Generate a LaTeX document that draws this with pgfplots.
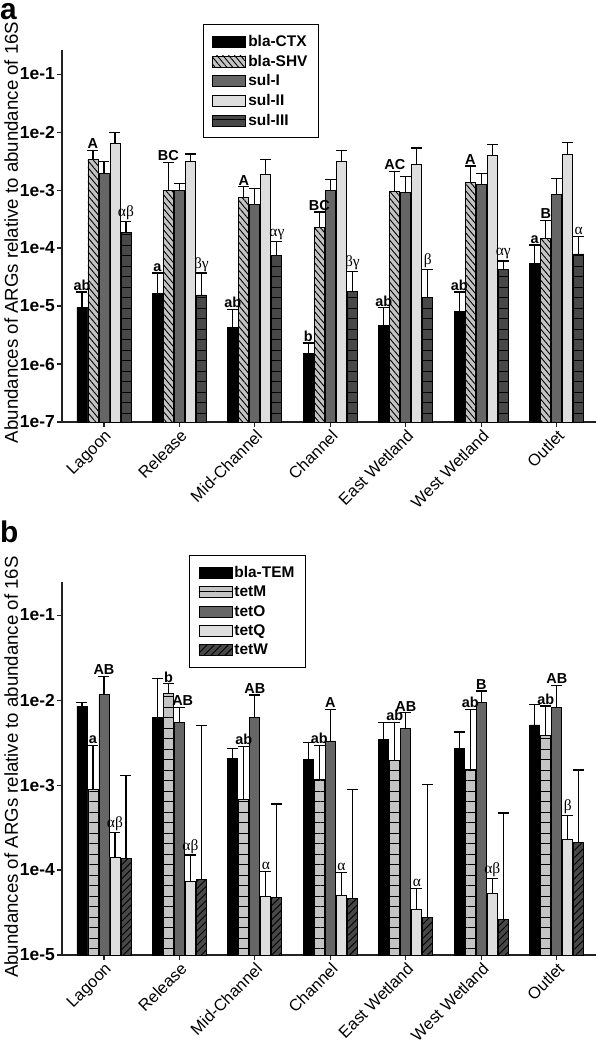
\documentclass[border=0pt]{standalone}
\usepackage{fontspec}
\setmainfont{Liberation Sans}
\newfontfamily\grk{Liberation Serif}
\usepackage{pgfplots}
\pgfplotsset{compat=1.18}
\usetikzlibrary{patterns.meta}

\definecolor{cMid}{HTML}{666666}
\definecolor{cDark}{HTML}{484848}
\definecolor{cLight}{HTML}{C4C4C4}
\definecolor{cPale}{HTML}{DEDEDE}
\definecolor{axc}{HTML}{222222}

% letter above an error bar: category, series offset (-2..2), error top, text
\newcommand{\lab}[4]{\node[anchor=south, inner sep=1.5bp, font=\bfseries\fontsize{14.5}{14.5}\selectfont, xshift={#2*11bp}] at (axis cs:#1,#3) {#4};}
\newcommand{\glab}[4]{\node[anchor=south, inner sep=1.5bp, font=\grk\fontsize{15.5}{15.5}\selectfont, xshift={#2*11bp}] at (axis cs:#1,#3) {#4};}

\tikzset{
  sBlack/.style={fill=black, draw=black, line width=0.8bp},
  sBack/.style={fill=cLight, draw=black, line width=0.8bp,
    postaction={pattern={Lines[angle=-50,distance=4.5bp,line width=0.9bp]}}},
  sMid/.style={fill=cMid, draw=black, line width=0.8bp},
  sPale/.style={fill=cPale, draw=black, line width=0.8bp},
  sDarkH/.style={fill=cDark, draw=black, line width=0.8bp,
    postaction={pattern={Lines[angle=0,distance=10.5bp,line width=0.9bp]}}},
  sLightH/.style={fill=cLight, draw=black, line width=0.8bp,
    postaction={pattern={Lines[angle=0,distance=10.5bp,line width=0.9bp]}}},
  sDarkF/.style={fill=cDark, draw=black, line width=0.8bp,
    postaction={pattern={Lines[angle=45,distance=5bp,line width=0.9bp]}}},
}

\begin{document}
\begin{tikzpicture}

\node[anchor=north west, inner sep=0, text height=16bp, text depth=0bp, font=\bfseries\fontsize{30}{30}\selectfont] at (0bp,-3bp) {a};
\node[anchor=north west, inner sep=0, text height=22bp, text depth=0bp, font=\bfseries\fontsize{30}{30}\selectfont] at (0bp,-520bp) {b};

% ---------------- panel a ----------------
\begin{axis}[at={(62bp,-50bp)}, anchor=north west,
    scale only axis, width=534bp, height=372bp,
    ybar=1bp, bar width=10bp,
    ymode=log, log origin=infty,
    xmin=-0.556, xmax=6.52,
    ymin=1e-7, ymax=0.26,
    axis lines=left, axis line style={line width=1.2bp, color=axc, -},
    tick align=outside, major tick length=5bp,
    tick style={line width=1.1bp, color=axc},
    yminorticks=false,
    xtick={0,...,6},
    xticklabels={Lagoon,Release,Mid-Channel,Channel,East Wetland,West Wetland,Outlet},
    x tick label style={rotate=45, anchor=north east, font=\fontsize{16.5}{16.5}\selectfont, inner sep=1bp},
    ytick={1e-7,1e-6,1e-5,1e-4,1e-3,1e-2,1e-1},
    yticklabels={1e-7,1e-6,1e-5,1e-4,1e-3,1e-2,1e-1},
    y tick label style={font=\bfseries\fontsize{17.5}{17.5}\selectfont, inner xsep=2bp},
    ylabel={Abundances of ARGs relative to abundance of 16S},
    ylabel style={font=\fontsize{18.7}{18.7}\selectfont, at={(axis description cs:-0.095,0.51)}, anchor=center},
    clip=false,
    legend image code/.code={\draw[#1, line width=0.8bp] (0bp,-5.5bp) rectangle (33bp,5.5bp);},
    legend style={at={(0.264,1.07)}, anchor=north west, draw=black, line width=1bp,
      font=\bfseries\fontsize{15.5}{15.5}\selectfont,
      row sep=3bp, inner xsep=9bp, inner ysep=9bp, cells={anchor=west}},
    error bars/error bar style={line width=1.2bp, black},
    error bars/error mark options={rotate=90, line width=1.2bp, mark size=5.5bp, black},
]
\addplot[sBlack, error bars/.cd, y dir=plus, y explicit] table[x=x, y=y, y error=e] {
x y e
0 9.5e-6 7.9e-6
1 1.65e-5 2.05e-5
2 4.3e-6 4.4e-6
3 1.5e-6 8e-7
4 4.7e-6 4.6e-6
5 8.1e-6 9.3e-6
6 5.4e-5 5.9e-5
};
\addplot[sBack, error bars/.cd, y dir=plus, y explicit] table[x=x, y=y, y error=e] {
x y e
0 3.4e-3 1.4e-3
1 1.0e-3 1.95e-3
2 7.4e-4 4.0e-4
3 2.3e-4 1.9e-4
4 9.3e-4 1.17e-3
5 1.35e-3 1.25e-3
6 1.44e-4 1.56e-4
};
\addplot[sMid, error bars/.cd, y dir=plus, y explicit] table[x=x, y=y, y error=e] {
x y e
0 1.96e-3 1.14e-3
1 9.7e-4 3.3e-4
2 5.7e-4 5.0e-4
3 9.7e-4 5.3e-4
4 9.1e-4 7.9e-4
5 1.27e-3 6.7e-4
6 8.5e-4 7.5e-4
};
\addplot[sPale, error bars/.cd, y dir=plus, y explicit] table[x=x, y=y, y error=e] {
x y e
0 6.4e-3 3.4e-3
1 3.1e-3 1.1e-3
2 1.86e-3 1.54e-3
3 3.1e-3 1.7e-3
4 2.8e-3 2.5e-3
5 4.0e-3 2.2e-3
6 4.07e-3 2.63e-3
};
\addplot[sDarkH, error bars/.cd, y dir=plus, y explicit] table[x=x, y=y, y error=e] {
x y e
0 1.86e-4 1.04e-4
1 1.55e-5 2.15e-5
2 7.4e-5 5.6e-5
3 1.8e-5 2.1e-5
4 1.4e-5 2.8e-5
5 4.2e-5 1.8e-5
6 7.9e-5 8.1e-5
};
\legend{bla-CTX,bla-SHV,sul-I,sul-II,sul-III}

\lab{0}{-2}{1.74e-5}{ab}
\lab{1}{-2}{3.7e-5}{a}
\lab{2}{-2}{8.7e-6}{ab}
\lab{3}{-2}{2.3e-6}{b}
\lab{4}{-2}{9.3e-6}{ab}
\lab{5}{-2}{1.74e-5}{ab}
\lab{6}{-2}{1.13e-4}{a}
\lab{0}{-1}{4.8e-3}{A}
\lab{1}{-1}{2.95e-3}{BC}
\lab{2}{-1}{1.14e-3}{A}
\lab{3}{-1}{4.2e-4}{BC}
\lab{4}{-1}{2.1e-3}{AC}
\lab{5}{-1}{2.6e-3}{A}
\lab{6}{-1}{3.0e-4}{B}
\glab{0}{2}{2.9e-4}{αβ}
\glab{1}{2}{3.7e-5}{βγ}
\glab{2}{2}{1.3e-4}{αγ}
\glab{3}{2}{3.9e-5}{βγ}
\glab{4}{2}{4.2e-5}{β}
\glab{5}{2}{6.0e-5}{αγ}
\glab{6}{2}{1.6e-4}{α}
\end{axis}

% ---------------- panel b ----------------
\begin{axis}[at={(62bp,-582bp)}, anchor=north west,
    scale only axis, width=534bp, height=373bp,
    ybar=1bp, bar width=10bp,
    ymode=log, log origin=infty,
    xmin=-0.556, xmax=6.52,
    ymin=1e-5, ymax=0.245,
    axis lines=left, axis line style={line width=1.2bp, color=axc, -},
    tick align=outside, major tick length=5bp,
    tick style={line width=1.1bp, color=axc},
    yminorticks=false,
    xtick={0,...,6},
    xticklabels={Lagoon,Release,Mid-Channel,Channel,East Wetland,West Wetland,Outlet},
    x tick label style={rotate=45, anchor=north east, font=\fontsize{16.5}{16.5}\selectfont, inner sep=1bp},
    ytick={1e-5,1e-4,1e-3,1e-2,1e-1},
    yticklabels={1e-5,1e-4,1e-3,1e-2,1e-1},
    y tick label style={font=\bfseries\fontsize{17.5}{17.5}\selectfont, inner xsep=2bp},
    ylabel={Abundances of ARGs relative to abundance of 16S},
    ylabel style={font=\fontsize{18.7}{18.7}\selectfont, at={(axis description cs:-0.095,0.504)}, anchor=center},
    clip=false,
    legend image code/.code={\draw[#1, line width=0.8bp] (0bp,-5.5bp) rectangle (33bp,5.5bp);},
    legend style={at={(0.238,1.072)}, anchor=north west, draw=black, line width=1bp,
      font=\bfseries\fontsize{15.5}{15.5}\selectfont,
      row sep=3bp, inner xsep=9bp, inner ysep=9bp, cells={anchor=west}},
    error bars/error bar style={line width=1.2bp, black},
    error bars/error mark options={rotate=90, line width=1.2bp, mark size=5.5bp, black},
]
\addplot[sBlack, error bars/.cd, y dir=plus, y explicit] table[x=x, y=y, y error=e] {
x y e
0 8.5e-3 8e-4
1 6.2e-3 1.18e-2
2 2.05e-3 6.5e-4
3 2.0e-3 1.15e-3
4 3.4e-3 2.0e-3
5 2.7e-3 1.5e-3
6 5.1e-3 3.8e-3
};
\addplot[sLightH, error bars/.cd, y dir=plus, y explicit] table[x=x, y=y, y error=e] {
x y e
0 8.9e-4 2.06e-3
1 1.2e-2 3.5e-3
2 6.7e-4 2.2e-3
3 1.15e-3 1.75e-3
4 1.94e-3 3.56e-3
5 1.51e-3 6.19e-3
6 3.8e-3 4.7e-3
};
\addplot[sMid, error bars/.cd, y dir=plus, y explicit] table[x=x, y=y, y error=e] {
x y e
0 1.17e-2 7.3e-3
1 5.4e-3 2.8e-3
2 6.2e-3 5.3e-3
3 3.3e-3 4.5e-3
4 4.65e-3 2.45e-3
5 9.4e-3 3.4e-3
6 8.1e-3 6.8e-3
};
\addplot[sPale, error bars/.cd, y dir=plus, y explicit] table[x=x, y=y, y error=e] {
x y e
0 1.41e-4 1.34e-4
1 7.4e-5 7.6e-5
2 4.9e-5 4.7e-5
3 5.0e-5 4.3e-5
4 3.4e-5 2.7e-5
5 5.3e-5 2.6e-5
6 2.3e-4 2.1e-4
};
\addplot[sDarkF, error bars/.cd, y dir=plus, y explicit] table[x=x, y=y, y error=e] {
x y e
0 1.36e-4 1.164e-3
1 7.7e-5 4.923e-3
2 4.8e-5 5.52e-4
3 4.6e-5 8.44e-4
4 2.8e-5 9.92e-4
5 2.6e-5 4.44e-4
6 2.1e-4 1.29e-3
};
\legend{bla-TEM,tetM,tetO,tetQ,tetW}

\lab{0}{-1}{2.95e-3}{a}
\lab{1}{-1}{1.55e-2}{b}
\lab{2}{-1}{2.87e-3}{ab}
\lab{3}{-1}{2.9e-3}{ab}
\lab{4}{-1}{5.5e-3}{ab}
\lab{5}{-1}{7.7e-3}{ab}
\lab{6}{-1}{8.5e-3}{ab}
\lab{0}{0}{1.9e-2}{AB}
\lab{1}{0.3}{8.2e-3}{AB}
\lab{2}{0}{1.15e-2}{AB}
\lab{3}{0}{7.8e-3}{A}
\lab{4}{0}{7.1e-3}{AB}
\lab{5}{0}{1.28e-2}{B}
\lab{6}{0}{1.49e-2}{AB}
\glab{0}{1}{2.75e-4}{αβ}
\glab{1}{1}{1.5e-4}{αβ}
\glab{2}{1}{9.6e-5}{α}
\glab{3}{1}{9.3e-5}{α}
\glab{4}{1}{6.1e-5}{α}
\glab{5}{1}{7.9e-5}{αβ}
\glab{6}{1}{4.4e-4}{β}
\end{axis}

\pgfresetboundingbox
\path (0bp,0bp) rectangle (600bp,-1043bp);
\end{tikzpicture}
\end{document}
